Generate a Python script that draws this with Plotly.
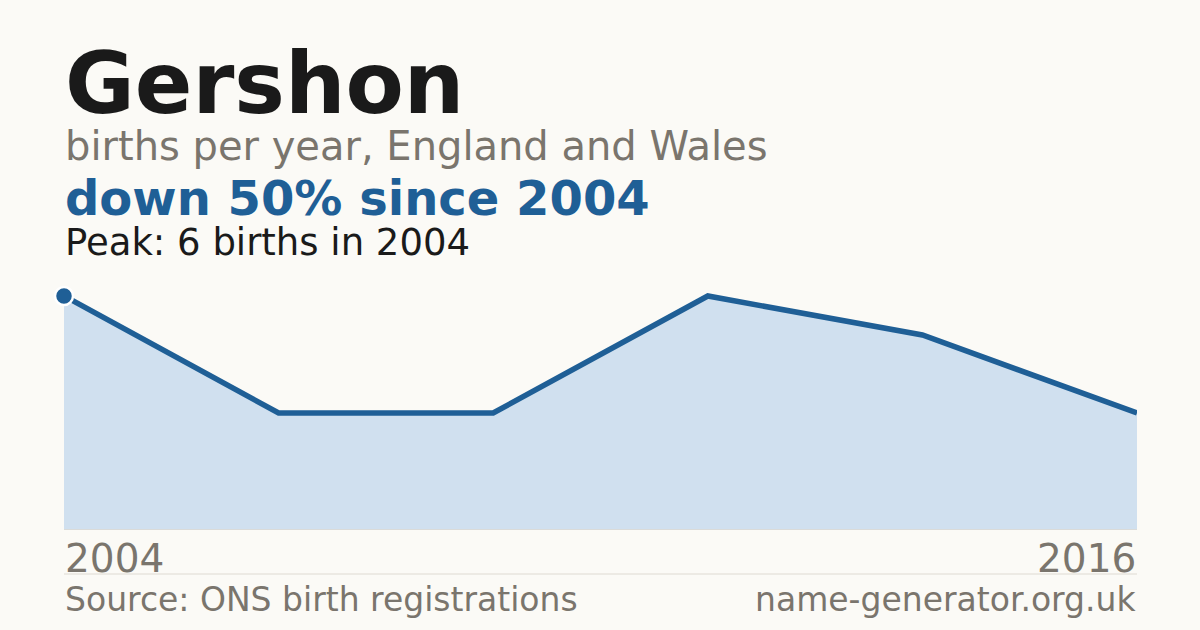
import plotly.graph_objects as go

# data
years = ["2004", "2006", "2009", "2011", "2014", "2016"]
births = [6, 3, 3, 6, 5, 3]

name = "Gershon"
subtitle = "births per year, England and Wales"
headline = "down 50% since 2004"
peak_note = "Peak: 6 births in 2004"
source = "Source: ONS birth registrations"
site = "name-generator.org.uk"

BG = "#fbfaf6"
BLUE = "#1f5f96"
FILL = "#d0e0ef"
GREY = "#7a756d"
INK = "#1a1a1a"
RULE = "#dedad2"
FONT = "DejaVu Sans"

W, H = 1200, 630
M_L, M_R, M_T, M_B = 64, 63, 280, 100
PLOT_H = H - M_T - M_B


def py(pix):
    # pixel row -> paper y
    return 1 - (pix - M_T) / PLOT_H


fig = go.Figure()

fig.add_trace(go.Scatter(
    x=years,
    y=births,
    mode="lines",
    line=dict(color=BLUE, width=5.5),
    fill="tozeroy",
    fillcolor=FILL,
    hoverinfo="skip",
    cliponaxis=False,
))

# peak marker
fig.add_trace(go.Scatter(
    x=[years[0]],
    y=[births[0]],
    mode="markers",
    marker=dict(color=BLUE, size=18, line=dict(color="white", width=2.5)),
    cliponaxis=False,
    hoverinfo="skip",
))

annotations = [
    dict(text=f"<b>{name}</b>", x=0, y=py(83), size=85, color=INK, xanchor="left"),
    dict(text=subtitle, x=0, y=py(146), size=40, color=GREY, xanchor="left"),
    dict(text=f"<b>{headline}</b>", x=0, y=py(198), size=48, color=BLUE, xanchor="left"),
    dict(text=peak_note, x=0, y=py(242), size=37, color=INK, xanchor="left"),
    dict(text=years[0], x=0, y=py(558), size=39, color=GREY, xanchor="left"),
    dict(text=years[-1], x=1, y=py(558), size=39, color=GREY, xanchor="right"),
    dict(text=source, x=0, y=py(599), size=33, color=GREY, xanchor="left"),
    dict(text=site, x=1, y=py(599), size=33, color=GREY, xanchor="right"),
]

for a in annotations:
    fig.add_annotation(
        text=a["text"], x=a["x"], y=a["y"],
        xref="paper", yref="paper",
        xanchor=a["xanchor"], yanchor="middle",
        showarrow=False, borderpad=0,
        font=dict(family=FONT, size=a["size"], color=a["color"]),
    )

# faint baseline under the area
fig.add_shape(type="line", xref="paper", yref="y",
              x0=0, x1=1, y0=0, y1=0,
              line=dict(color=RULE, width=1.5))

# thin rule above the footer
fig.add_shape(type="line", xref="paper", yref="paper",
              x0=0, x1=1, y0=py(574), y1=py(574),
              line=dict(color=RULE, width=1))

fig.update_layout(
    width=W, height=H,
    margin=dict(l=M_L, r=M_R, t=M_T, b=M_B),
    paper_bgcolor=BG,
    plot_bgcolor=BG,
    showlegend=False,
    font=dict(family=FONT),
    xaxis=dict(type="category", range=[0, len(years) - 1], visible=False,
               showgrid=False, zeroline=False, fixedrange=True),
    yaxis=dict(range=[0, 6.41], visible=False, showgrid=False,
               zeroline=False, fixedrange=True),
)

fig.write_html(
    "out.html",
    config={"displayModeBar": False},
    post_script="document.body.style.margin='0';document.body.style.background='%s';" % BG,
)
